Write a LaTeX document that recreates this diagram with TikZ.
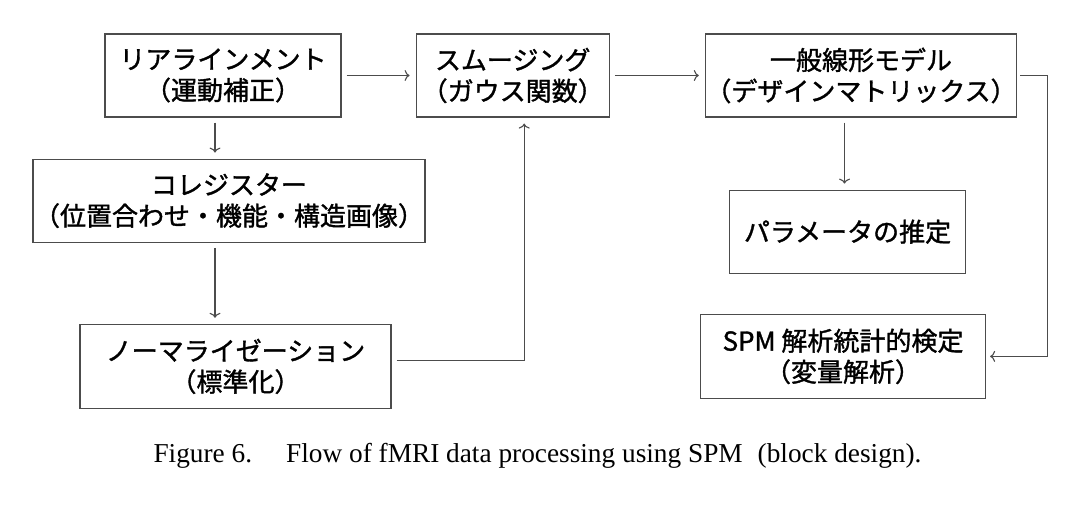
\documentclass[tikz,border=0pt]{standalone}
\usepackage{fontspec}
\setmainfont{Liberation Serif}
\newfontfamily\cjk[FakeBold=1.3]{Noto Sans CJK JP}
\usetikzlibrary{positioning,calc,arrows.meta}

\begin{document}
\begin{tikzpicture}[x=1pt,y=1pt,
    stepbox/.style={draw=black!70,line width=1.2pt,align=center,inner sep=0pt,
      minimum height=83pt,font=\cjk\fontsize{26}{31}\selectfont},
    flow/.style={draw=black!70,line width=1.1pt,-{To[length=5pt,width=11pt]},
      shorten <=5pt,shorten >=6pt}]
    \useasboundingbox (0,0) rectangle (1090,530);

    % top row
    \node[stepbox,minimum width=236pt] (realign) at (223,454.5) {リアラインメント\\（運動補正）};
    \node[stepbox,minimum width=193pt] (smooth) [right=74pt of realign] {スムージング\\（ガウス関数）};
    \node[stepbox,minimum width=309pt] (glm) [right=95pt of smooth] {一般線形モデル\\（デザインマトリックス）};

    % left column
    \node[stepbox,minimum width=392pt] (coreg) [below=41pt of realign,xshift=6pt] {コレジスター\\（位置合わせ・機能・構造画像）};
    \node[stepbox,minimum width=311pt,minimum height=84pt] (norm) [below=81pt of coreg,xshift=6.5pt] {ノーマライゼーション\\（標準化）};

    % right column
    \node[stepbox,minimum width=236pt] (param) [below=72pt of glm,xshift=-13.5pt] {パラメータの推定};
    \node[stepbox,minimum width=285pt,minimum height=84pt] (spm) [below=40pt of param,xshift=-4.5pt] {SPM 解析統計的検定\\（変量解析）};

    \node[anchor=base,inner sep=0pt] (caption) at (537.5,67) {\fontsize{27.3}{31}\selectfont Figure 6.\quad\ Flow of fMRI data processing using SPM\hspace{0.3em} (block design).};

    \draw[flow] (realign) -- (smooth);
    \draw[flow] (smooth) -- (glm);
    \draw[flow] ([xshift=-8pt]realign.south) -- ([xshift=-8pt]realign.south |- coreg.north);
    \draw[flow] ([xshift=-14pt]coreg.south) -- ([xshift=-14pt]coreg.south |- norm.north);
    \draw[flow] ([yshift=6pt]norm.east) -| ([xshift=11.5pt]smooth.south);
    \draw[flow] ([xshift=-16.5pt]glm.south) -- ([xshift=-16.5pt]glm.south |- param.north);
    \draw[flow,shorten <=3pt,shorten >=4pt] (glm.east) -- ++(30,0) |- (spm.east);
\end{tikzpicture}
\end{document}
